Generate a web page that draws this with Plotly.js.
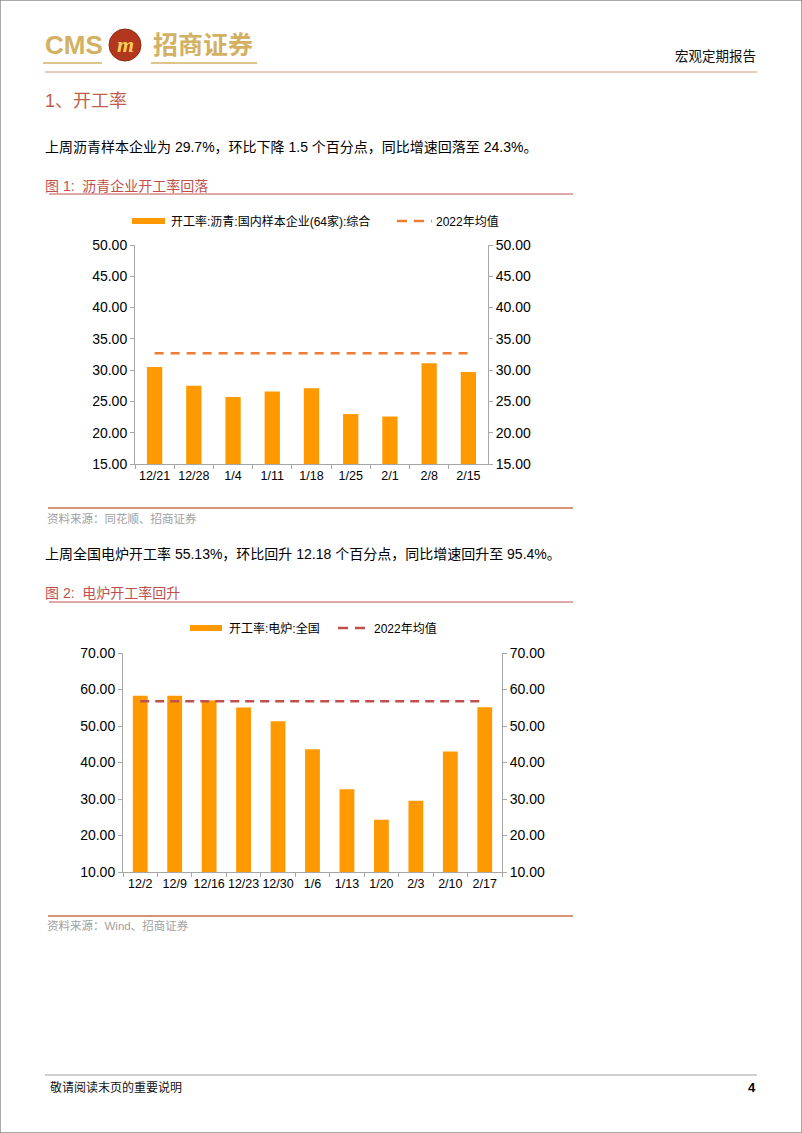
<!DOCTYPE html>
<html>
<head>
<meta charset="utf-8">
<script src="https://cdn.plot.ly/plotly-3.0.1.min.js"></script>
<style>
  html, body { margin: 0; padding: 0; background: #fff; }
  #page { width: 802px; height: 1133px; }
</style>
</head>
<body>
<div id="page"></div>
<script>
// ---------- data ----------
const cats1 = ['12/21', '12/28', '1/4', '1/11', '1/18', '1/25', '2/1', '2/8', '2/15'];
const vals1 = [30.5, 27.5, 25.7, 26.6, 27.1, 23.0, 22.6, 31.1, 29.7];
const avg1 = [32.7, 32.7, 32.7, 32.7, 32.7, 32.7, 32.7, 32.7, 32.7];
const name1 = '开工率:沥青:国内样本企业(64家):综合';

const cats2 = ['12/2', '12/9', '12/16', '12/23', '12/30', '1/6', '1/13', '1/20', '2/3', '2/10', '2/17'];
const vals2 = [58.3, 58.3, 57.0, 55.1, 51.3, 43.6, 32.7, 24.3, 29.5, 43.0, 55.13];
const avg2 = [56.8, 56.8, 56.8, 56.8, 56.8, 56.8, 56.8, 56.8, 56.8, 56.8, 56.8];
const name2 = '开工率:电炉:全国';
const avgName = '2022年均值';

// ---------- helpers (page pixels -> paper) ----------
const W = 802, H = 1133;
const px = x => x / W;
const py = y => 1 - y / H;
const FONT = '"Liberation Sans", Arial, "Noto Sans CJK SC", sans-serif';
const CJK = '"Liberation Sans", "Noto Sans CJK SC", sans-serif';
const BAR = '#FF9900';
const AXC = '#A6A6A6';
const RED = '#C0504D';
const GOLD = '#D3B062';

function txt(x, y, text, size, color, opts) {
  return Object.assign({
    xref: 'paper', yref: 'paper', x: px(x), y: py(y), text: text,
    showarrow: false, xanchor: 'left', yanchor: 'middle',
    font: {family: CJK, size: size, color: color}
  }, opts || {});
}
function hline(x0, x1, y, color, width, dash) {
  return {type: 'line', xref: 'paper', yref: 'paper',
    x0: px(x0), x1: px(x1), y0: py(y), y1: py(y),
    line: {color: color, width: width, dash: dash || 'solid'}};
}
function rect(x0, x1, y0, y1, fill) {
  return {type: 'rect', xref: 'paper', yref: 'paper',
    x0: px(x0), x1: px(x1), y0: py(y0), y1: py(y1),
    fillcolor: fill, line: {width: 0}};
}

function yAxis(domTop, domBot, range, dtick, side, anchor, overlay) {
  const a = {
    range: range, dtick: dtick, tick0: range[0], tickformat: '.2f',
    ticks: 'outside', ticklen: 4, tickcolor: AXC, tickwidth: 1,
    showline: true, linecolor: AXC, linewidth: 1,
    showgrid: false, zeroline: false, fixedrange: true,
    tickfont: {family: FONT, size: 14, color: '#000'},
    side: side, anchor: anchor
  };
  if (overlay) a.overlaying = overlay;
  else a.domain = [py(domBot), py(domTop)];
  return a;
}
function xAxis(x0, x1, anchor, n) {
  return {
    domain: [px(x0), px(x1)], anchor: anchor, type: 'category',
    range: [-0.5, n - 0.5], tickangle: 0, automargin: false,
    tickson: 'boundaries', ticks: 'outside', ticklen: 4, tickcolor: AXC,
    showline: true, linecolor: AXC, linewidth: 1,
    showgrid: false, zeroline: false, fixedrange: true,
    tickfont: {family: FONT, size: 12.5, color: '#000'}
  };
}

// ---------- traces ----------
const traces = [
  {type: 'bar', x: cats1, y: vals1, name: name1, xaxis: 'x', yaxis: 'y',
   marker: {color: BAR}, width: 0.39, showlegend: false, hoverinfo: 'x+y'},
  {type: 'scatter', mode: 'lines', x: cats1, y: avg1, name: avgName, xaxis: 'x', yaxis: 'y3',
   line: {color: '#ED7D31', width: 2.5, dash: '9px,7px'}, showlegend: false},
  {type: 'bar', x: cats2, y: vals2, name: name2, xaxis: 'x2', yaxis: 'y2',
   marker: {color: BAR}, width: 0.43, showlegend: false, hoverinfo: 'x+y'},
  {type: 'scatter', mode: 'lines', x: cats2, y: avg2, name: avgName, xaxis: 'x2', yaxis: 'y4',
   line: {color: RED, width: 2.5, dash: '9px,6px'}, showlegend: false}
];

// ---------- layout ----------
const annotations = [
  // header
  txt(43, 45, '<b>CMS</b>', 26, GOLD, {font: {family: '"Liberation Sans", sans-serif', size: 26, color: GOLD}}),
  txt(125, 45, '<b><i>m</i></b>', 20, '#F3C94A', {xanchor: 'center', font: {family: '"Liberation Serif", serif', size: 22, color: '#F5CF55'}}),
  txt(151, 45, '<b>招商证券</b>', 25, GOLD),
  txt(758, 57, '宏观定期报告', 13.5, '#111', {xanchor: 'right'}),
  // section
  txt(43, 101, '1、开工率', 18, '#BE5E4A'),
  txt(43, 147, '上周沥青样本企业为 29.7%，环比下降 1.5 个百分点，同比增速回落至 24.3%。', 14, '#000'),
  txt(43, 186, '图 1:  沥青企业开工率回落', 14, RED),
  // legend 1
  txt(169, 221, name1, 12, '#000'),
  txt(434, 221, avgName, 12, '#000'),
  txt(45, 518, '资料来源：同花顺、招商证券', 11.5, '#A0A0A0'),
  // chart 2
  txt(43, 554, '上周全国电炉开工率 55.13%，环比回升 12.18 个百分点，同比增速回升至 95.4%。', 14, '#000'),
  txt(43, 593, '图 2:  电炉开工率回升', 14, RED),
  txt(227, 628, name2, 12, '#000'),
  txt(372, 628, avgName, 12, '#000'),
  txt(45, 925, '资料来源：Wind、招商证券', 11.5, '#A0A0A0'),
  // footer
  txt(48, 1087, '敬请阅读末页的重要说明', 12, '#111'),
  txt(758, 1087, '<b>4</b>', 13, '#000', {xanchor: 'right'})
];

const shapes = [
  // page frame
  {type: 'rect', xref: 'paper', yref: 'paper', x0: 0, x1: 1, y0: 0, y1: 1, line: {color: '#8C8C8C', width: 1.5}},
  // logo
  {type: 'circle', xref: 'paper', yref: 'paper', x0: px(109), x1: px(141), y0: py(61), y1: py(29),
   fillcolor: '#B3361E', line: {color: '#8E2A14', width: 1}},
  hline(43, 102, 63, GOLD, 1.5),
  hline(151, 257, 63, GOLD, 1.5),
  hline(45, 757, 72, '#D9907F', 1),
  // figure 1
  hline(49, 573, 194, RED, 1),
  rect(132, 165, 218, 224, BAR),
  hline(397, 432, 221, '#ED7D31', 2.5, '10px,7px'),
  hline(48, 573, 508, '#D4917B', 2),
  // figure 2
  hline(49, 573, 602, RED, 1),
  rect(190, 222, 625, 631, BAR),
  hline(338, 370, 628, RED, 2.5, '10px,7px'),
  hline(48, 573, 916, '#D4917B', 2),
  // footer
  hline(45, 757, 1075, '#A0A0A0', 1)
];

const layout = {
  width: W, height: H, autosize: false,
  margin: {l: 0, r: 0, t: 0, b: 0, pad: 0},
  paper_bgcolor: '#fff', plot_bgcolor: 'rgba(0,0,0,0)',
  showlegend: false, barmode: 'group',
  font: {family: FONT},
  xaxis: xAxis(135, 488, 'y', cats1.length),
  yaxis: yAxis(245, 464, [15, 50], 5, 'left', 'x'),
  yaxis3: yAxis(245, 464, [15, 50], 5, 'right', 'x', 'y'),
  xaxis2: xAxis(123, 502, 'y2', cats2.length),
  yaxis2: yAxis(653, 872, [10, 70], 10, 'left', 'x2'),
  yaxis4: yAxis(653, 872, [10, 70], 10, 'right', 'x2', 'y2'),
  annotations: annotations,
  shapes: shapes
};

Plotly.newPlot('page', traces, layout, {displayModeBar: false, staticPlot: true});
</script>
</body>
</html>
